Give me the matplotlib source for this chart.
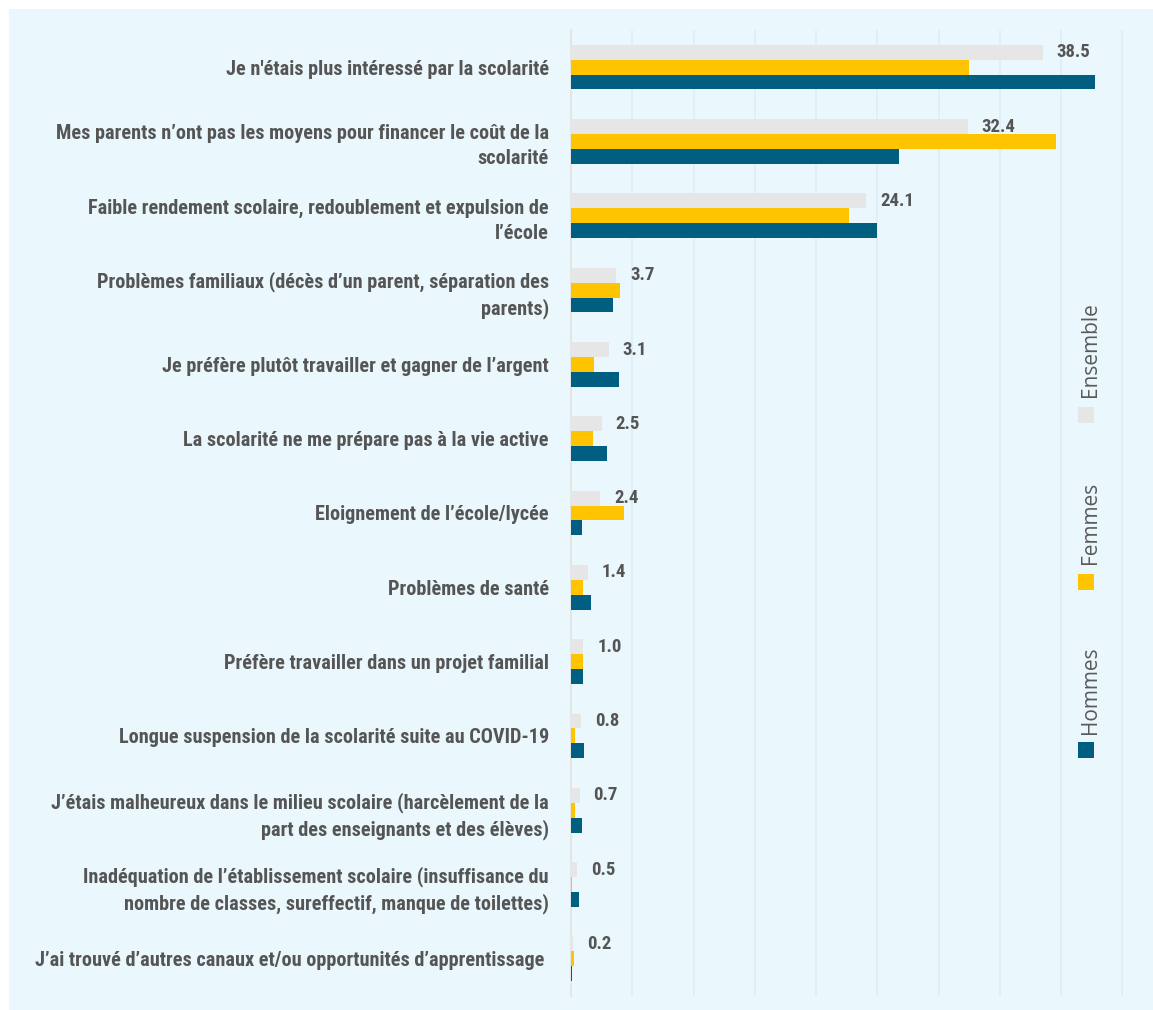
import matplotlib
matplotlib.use("Agg")
import matplotlib.pyplot as plt
from matplotlib.patches import Rectangle
import numpy as np

categories = [
    "Je n'étais plus intéressé par la scolarité",
    "Mes parents n’ont pas les moyens pour financer le coût de la\nscolarité",
    "Faible rendement scolaire, redoublement et expulsion de\nl’école",
    "Problèmes familiaux (décès d’un parent, séparation des\nparents)",
    "Je préfère plutôt travailler et gagner de l’argent",
    "La scolarité ne me prépare pas à la vie active",
    "Eloignement de l’école/lycée",
    "Problèmes de santé",
    "Préfère travailler dans un projet familial",
    "Longue suspension de la scolarité suite au COVID-19",
    "J’étais malheureux dans le milieu scolaire (harcèlement de la\npart des enseignants et des élèves)",
    "Inadéquation de l’établissement scolaire (insuffisance du\nnombre de classes, sureffectif, manque de toilettes)",
    "J’ai trouvé d’autres canaux et/ou opportunités d’apprentissage ",
]
ensemble = [38.5, 32.4, 24.1, 3.7, 3.1, 2.5, 2.4, 1.4, 1.0, 0.8, 0.7, 0.5, 0.2]
femmes = [32.5, 39.6, 22.7, 4.0, 1.9, 1.8, 4.3, 1.0, 1.0, 0.3, 0.3, 0.1, 0.25]
hommes = [42.8, 26.8, 25.0, 3.4, 3.9, 2.9, 0.9, 1.6, 1.0, 1.1, 0.9, 0.65, 0.1]
series_names = ["Ensemble", "Femmes", "Hommes"]
series_colors = ["#E6E6E6", "#FFC400", "#005E80"]

W, H = 1153, 1010
fig = plt.figure(figsize=(W / 100, H / 100), dpi=100)
fig.patch.set_facecolor("white")
fig.patches.append(Rectangle((9 / W, 0), 1 - 9 / W, (H - 9) / H,
                             transform=fig.transFigure, facecolor="#EAF7FC",
                             edgecolor="none", zorder=-10))

label_font = ["Roboto Condensed", "Liberation Sans Narrow", "DejaVu Sans"]
legend_font = ["Open Sans", "DejaVu Sans"]
txt_color = "#555555"

ax = fig.add_axes([571 / W, 14 / H, (1140 - 571) / W, (996 - 30) / H])
ax.set_facecolor("none")
ax.set_zorder(1)

n = len(categories)
y = np.arange(n)
bh = 0.2
ax.barh(y - bh, ensemble, height=bh, color=series_colors[0], zorder=3)
ax.barh(y, femmes, height=bh, color=series_colors[1], zorder=3)
ax.barh(y + bh, hommes, height=bh, color=series_colors[2], zorder=3)

for yi, v in zip(y, ensemble):
    ax.annotate(f"{v:.1f}", xy=(v, yi - bh), xytext=(10, 0), textcoords="offset points",
                ha="left", va="center", fontsize=13.5, color=txt_color,
                family=label_font, fontweight="bold", zorder=4)

ax.set_ylim(n - 0.5, -0.5)
ax.set_xlim(0, (1140 - 571) / 12.25)
ax.set_xticks(np.arange(0, 46, 5))
ax.set_xticklabels([])
ax.tick_params(axis="x", length=0)
ax.grid(axis="x", color="#DCEFF6", linewidth=1.2, zorder=1)
ax.set_yticks(y)
ax.set_yticklabels(categories, fontsize=14.6, color=txt_color, family=label_font,
                   fontweight="bold", linespacing=1.4)
ax.tick_params(axis="y", length=0, pad=16)
for s in ["top", "right", "bottom"]:
    ax.spines[s].set_visible(False)
ax.spines["left"].set_color("#E3E6E6")
ax.spines["left"].set_linewidth(1.5)
ax.spines["left"].set_zorder(2)

# legend (rotated, stacked vertically)
legend_items = [("Ensemble", series_colors[0], 397, 406.7),
                ("Femmes", series_colors[1], 564, 574),
                ("Hommes", series_colors[2], 734, 741.7)]
for name, col, ytext, ysq in legend_items:
    fig.text(1090 / W, 1 - ytext / H, name, rotation=90, ha="center", va="bottom",
             fontsize=15, color="#5a5a5a", family=legend_font, fontweight="normal",
             zorder=5)
    fig.patches.append(Rectangle((1078 / W, 1 - (ysq + 16) / H), 16 / W, 16 / H,
                                 transform=fig.transFigure, facecolor=col,
                                 edgecolor="none", zorder=5))

fig.savefig("out.png", dpi=100)
